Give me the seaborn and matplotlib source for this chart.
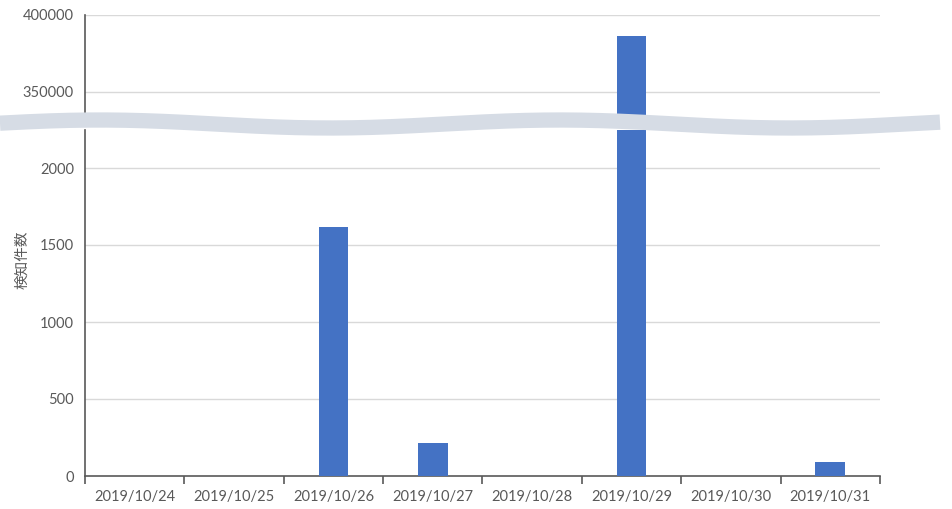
import numpy as np
import pandas as pd
import seaborn as sns
import matplotlib.pyplot as plt

dates = ['2019/10/24', '2019/10/25', '2019/10/26', '2019/10/27',
         '2019/10/28', '2019/10/29', '2019/10/30', '2019/10/31']
counts = [0, 0, 1620, 214, 0, 386500, 0, 91]
low_ticks = [0, 500, 1000, 1500, 2000]
high_ticks = [350000, 400000]

sns.set_theme(style="white")
plt.rcParams['font.family'] = ['Lato', 'Noto Sans CJK JP', 'DejaVu Sans']

df = pd.DataFrame({'date': dates, 'count': counts})

W, H = 953, 509
fig = plt.figure(figsize=(W / 100, H / 100), dpi=100)

def box(x0, y0, x1, y1):
    return [x0 / W, 1 - y1 / H, (x1 - x0) / W, (y1 - y0) / H]

ax_hi = fig.add_axes(box(85, 15, 880, 121))
ax_lo = fig.add_axes(box(85, 129.5, 880, 476))

grid_c = '#d9d9d9'
axis_c = '#595959'
text_c = '#595959'

for ax in (ax_hi, ax_lo):
    sns.barplot(data=df, x='date', y='count', color='#4472c4', width=0.3,
                saturation=1, linewidth=0, ax=ax, zorder=3)
    ax.set_xlim(-0.5, len(dates) - 0.5)
    ax.set_xlabel('')
    ax.set_ylabel('')
    for s in ['top', 'right', 'bottom']:
        ax.spines[s].set_visible(False)
    ax.spines['left'].set_color(axis_c)
    ax.spines['left'].set_linewidth(1.2)
    ax.tick_params(axis='y', length=0, pad=8, labelsize=10.5, labelcolor=text_c)

ax_hi.set_ylim(331000, 400000)
ax_hi.set_yticks(high_ticks)
ax_hi.set_xticks([])
for t in high_ticks:
    ax_hi.axhline(t, color=grid_c, lw=1, zorder=1)

ax_lo.set_ylim(0, 2250)
ax_lo.set_yticks(low_ticks)
for t in low_ticks[1:]:
    ax_lo.axhline(t, color=grid_c, lw=1, zorder=1)
ax_lo.spines['bottom'].set_visible(True)
ax_lo.spines['bottom'].set_color(axis_c)
ax_lo.spines['bottom'].set_linewidth(1.2)
ax_lo.set_xticks(range(len(dates)))
ax_lo.set_xticklabels(dates)
ax_lo.set_xticks(np.arange(-0.5, len(dates), 1), minor=True)
ax_lo.tick_params(axis='x', which='major', length=0, pad=10, labelsize=10.5,
                  labelcolor=text_c)
ax_lo.tick_params(axis='x', which='minor', length=6, width=1.2, color=axis_c,
                  direction='out', bottom=True)

# wavy break band
xs = np.linspace(0, 940, 300)
ys = 124 - 4 * np.cos(2 * np.pi * (xs - 100) / 460)
fig.add_artist(plt.Line2D(xs / W, 1 - ys / H, color='#d6dce5', lw=11,
                          solid_capstyle='butt', transform=fig.transFigure,
                          zorder=10))

fig.text(22 / W, 1 - 260 / H, '検知件数', rotation=90, ha='center', va='center',
         fontsize=10.5, color=text_c)

fig.savefig('out.png', dpi=100, facecolor='white')
